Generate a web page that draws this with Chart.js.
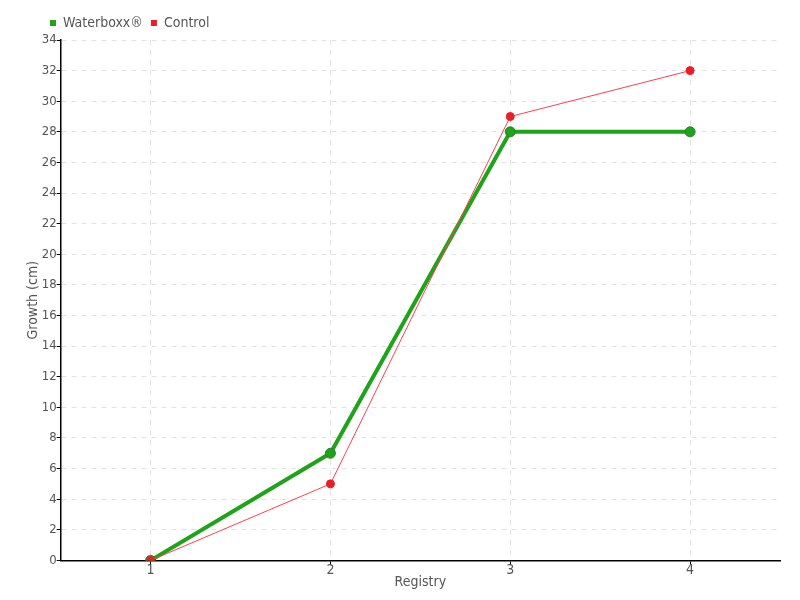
<!DOCTYPE html>
<html>
<head>
<meta charset="utf-8">
<script src="https://cdn.jsdelivr.net/npm/chart.js@4"></script>
<style>
  html, body { margin: 0; padding: 0; background: #fff; }
  #wrap { width: 800px; height: 600px; }
</style>
</head>
<body>
<div id="wrap"><canvas id="growthChart" width="800" height="600"></canvas></div>
<script>
const registries = ['1', '2', '3', '4'];
const waterboxx = [0, 7, 28, 28];
const control = [0, 5, 29, 32];

const fontFamily = '"DejaVu Sans Condensed", "Liberation Sans Narrow", sans-serif';

// shift the legend to the right so it starts near the y axis
const legendShift = {
    id: 'legendShift',
    afterLayout(chart) {
        chart.legend.left += 17;
    }
};

const ctx = document.getElementById('growthChart').getContext('2d');
new Chart(ctx, {
    type: 'line',
    data: {
        labels: registries,
        datasets: [{
            label: 'Waterboxx®',
            data: waterboxx,
            order: 1,
            borderColor: '#1fa31a',
            backgroundColor: '#1fa31a',
            pointBackgroundColor: '#1fa31a',
            pointBorderColor: '#2e7d2a',
            pointBorderWidth: 1,
            borderWidth: 4,
            pointRadius: 5,
            tension: 0
        }, {
            label: 'Control',
            data: control,
            order: 0,
            borderColor: '#ff4050',
            backgroundColor: '#ee1c25',
            pointBackgroundColor: '#ee1c25',
            pointBorderColor: '#ee1c25',
            borderWidth: 1,
            pointRadius: 4,
            tension: 0
        }]
    },
    options: {
        responsive: false,
        animation: false,
        layout: { padding: { left: 25, right: 20, top: 8, bottom: 9 } },
        scales: {
            x: {
                offset: true,
                title: { display: true, text: 'Registry', color: '#555', font: { family: fontFamily, size: 14 }, padding: { top: -3, bottom: 0 } },
                grid: {
                    color: '#e2e2e2',
                    tickColor: '#000',
                    tickLength: 4,
                    offset: false
                },
                border: { color: '#000', width: 1.5, dash: [5, 5] },
                ticks: { color: '#555', font: { family: fontFamily, size: 14 }, padding: -2 }
            },
            y: {
                min: 0,
                max: 34,
                title: { display: true, text: 'Growth (cm)', color: '#555', font: { family: fontFamily, size: 14 }, padding: { top: 0, bottom: 0 } },
                grid: {
                    color: '#e2e2e2',
                    tickColor: '#000',
                    tickLength: 4
                },
                border: { color: '#000', width: 1.5, dash: [5, 5] },
                ticks: { stepSize: 2, color: '#555', font: { family: fontFamily, size: 13 }, padding: 0 }
            }
        },
        plugins: {
            legend: {
                display: true,
                align: 'start',
                labels: {
                    boxWidth: 6,
                    boxHeight: 6,
                    padding: 8,
                    color: '#555',
                    font: { family: fontFamily, size: 14 },
                    generateLabels(chart) {
                        const items = Chart.defaults.plugins.legend.labels.generateLabels(chart);
                        items.forEach(item => { item.lineWidth = 0; });
                        return items.sort((a, b) => a.datasetIndex - b.datasetIndex);
                    }
                }
            },
            tooltip: { enabled: false }
        }
    },
    plugins: [legendShift]
});
</script>
</body>
</html>
